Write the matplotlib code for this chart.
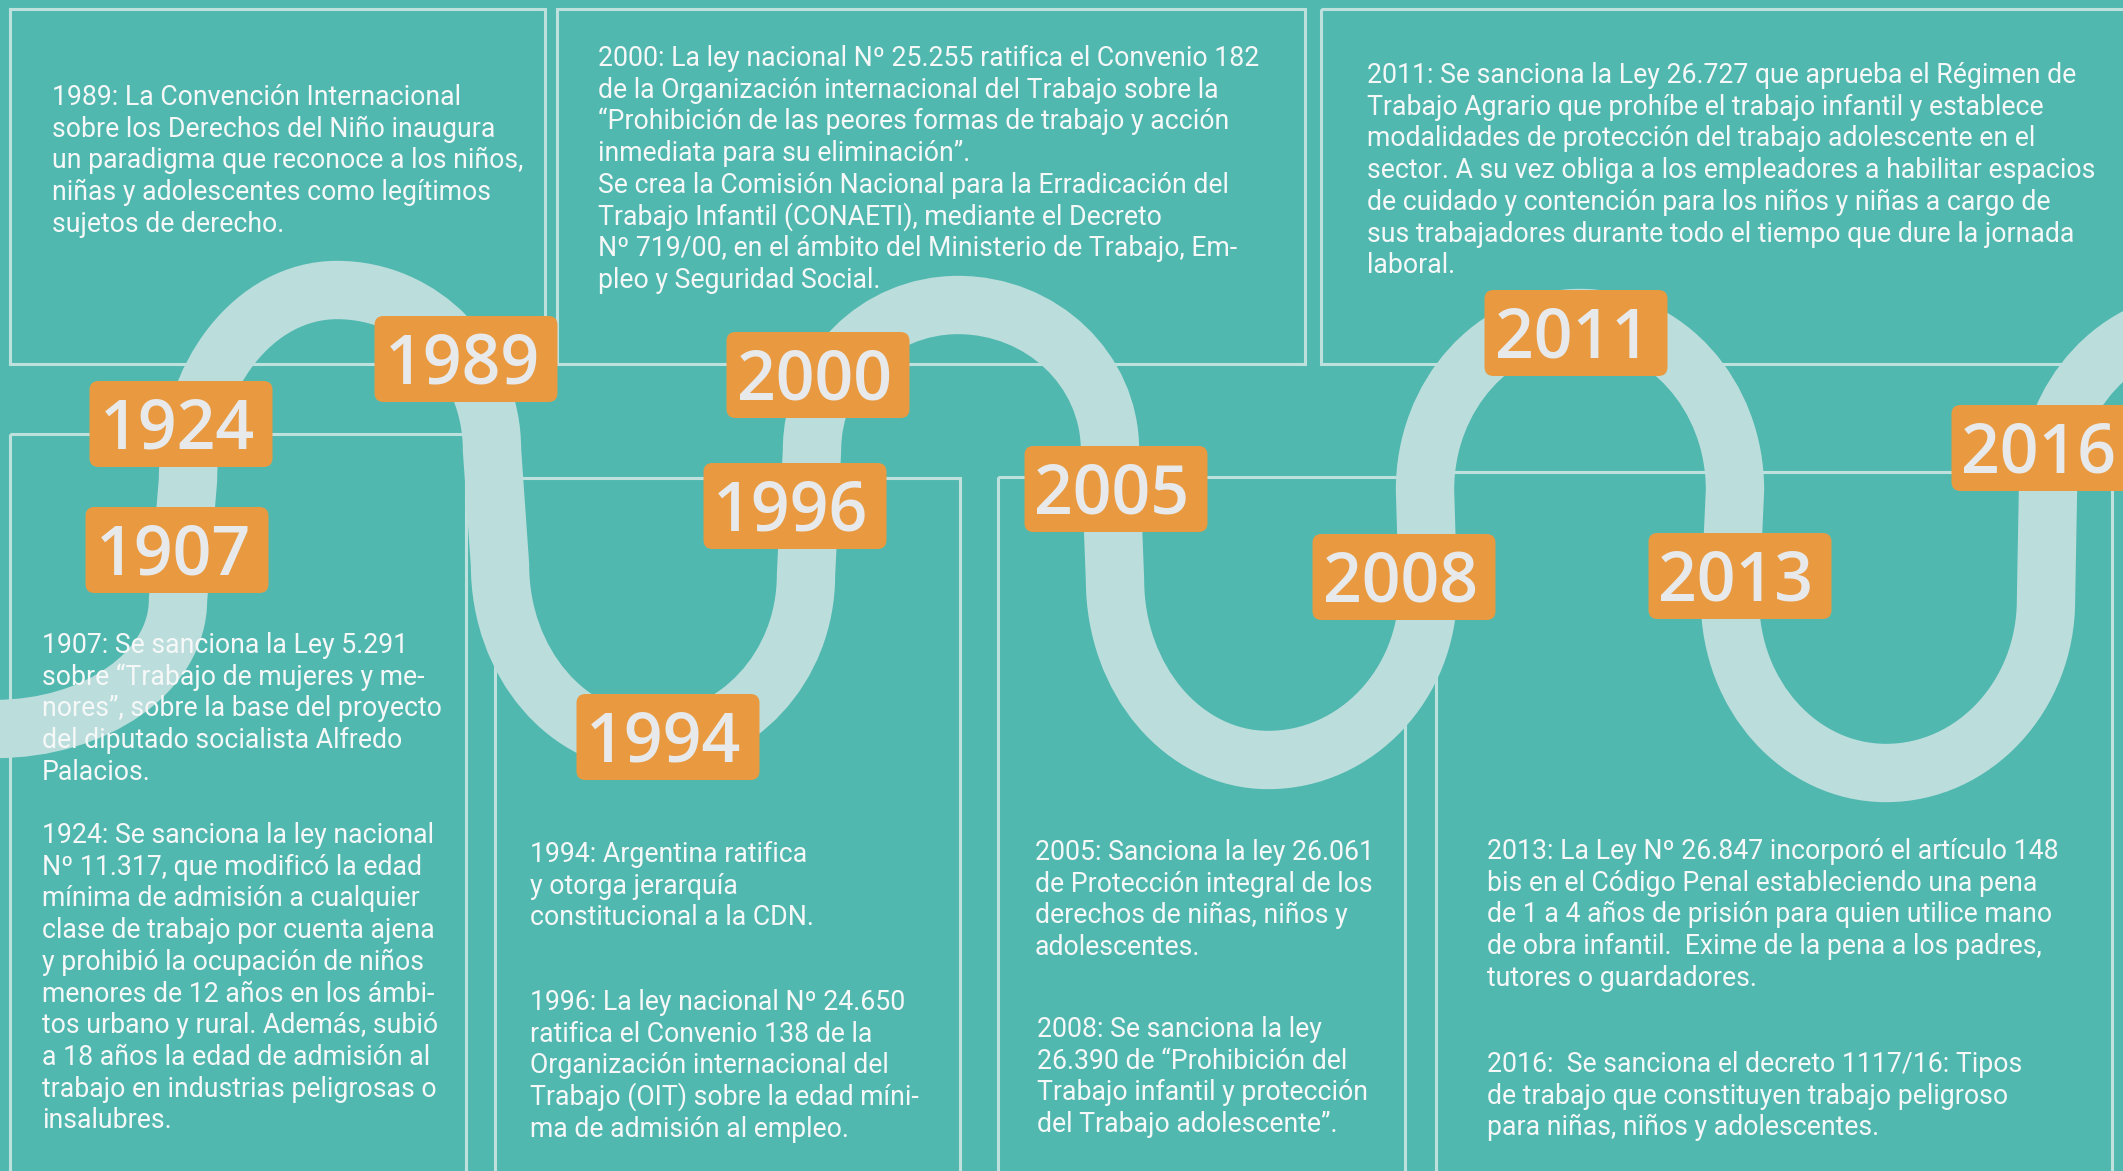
"""Timeline infographic: trabajo infantil en Argentina (1907-2016)."""
import matplotlib
matplotlib.use("Agg")
import matplotlib.pyplot as plt
from matplotlib.patches import FancyBboxPatch, Rectangle, PathPatch
from matplotlib.path import Path

W, H = 2123, 1171
BG = "#51b8b0"
LINE = "#bfe1de"
WAVE = "#bbdedc"
ORANGE = "#e99a40"
LABEL_TXT = "#e8e9eb"
BODY_TXT = "#f6f8f8"
BODY_FONT = ["Roboto", "DejaVu Sans"]
LABEL_FONT = ["Open Sans", "DejaVu Sans"]

# --- data --------------------------------------------------------------------
years = ["1907", "1924", "1989", "1994", "1996", "2000",
         "2005", "2008", "2011", "2013", "2016"]

text_1989 = ["1989: La Convención Internacional",
             "sobre los Derechos del Niño inaugura",
             "un paradigma que reconoce a los niños,",
             "niñas y adolescentes como legítimos",
             "sujetos de derecho."]
text_2000 = ["2000: La ley nacional Nº 25.255 ratifica el Convenio 182",
             "de la Organización internacional del Trabajo sobre la",
             "“Prohibición de las peores formas de trabajo y acción",
             "inmediata para su eliminación”.",
             "Se crea la Comisión Nacional para la Erradicación del",
             "Trabajo Infantil (CONAETI), mediante el Decreto",
             "Nº 719/00, en el ámbito del Ministerio de Trabajo, Em-",
             "pleo y Seguridad Social."]
text_2011 = ["2011: Se sanciona la Ley 26.727 que aprueba el Régimen de",
             "Trabajo Agrario que prohíbe el trabajo infantil y establece",
             "modalidades de protección del trabajo adolescente en el",
             "sector. A su vez obliga a los empleadores a habilitar espacios",
             "de cuidado y contención para los niños y niñas a cargo de",
             "sus trabajadores durante todo el tiempo que dure la jornada",
             "laboral."]
text_1907 = ["1907: Se sanciona la Ley 5.291",
             "sobre “Trabajo de mujeres y me-",
             "nores”, sobre la base del proyecto",
             "del diputado socialista Alfredo",
             "Palacios."]
text_1924 = ["1924: Se sanciona la ley nacional",
             "Nº 11.317, que modificó la edad",
             "mínima de admisión a cualquier",
             "clase de trabajo por cuenta ajena",
             "y prohibió la ocupación de niños",
             "menores de 12 años en los ámbi-",
             "tos urbano y rural. Además, subió",
             "a 18 años la edad de admisión al",
             "trabajo en industrias peligrosas o",
             "insalubres."]
text_1994 = ["1994: Argentina ratifica",
             "y otorga jerarquía",
             "constitucional a la CDN."]
text_1996 = ["1996: La ley nacional Nº 24.650",
             "ratifica el Convenio 138 de la",
             "Organización internacional del",
             "Trabajo (OIT) sobre la edad míni-",
             "ma de admisión al empleo."]
text_2005 = ["2005: Sanciona la ley 26.061",
             "de Protección integral de los",
             "derechos de niñas, niños y",
             "adolescentes."]
text_2008 = ["2008: Se sanciona la ley",
             "26.390 de “Prohibición del",
             "Trabajo infantil y protección",
             "del Trabajo adolescente”."]
text_2013 = ["2013: La Ley Nº 26.847 incorporó el artículo 148",
             "bis en el Código Penal estableciendo una pena",
             "de 1 a 4 años de prisión para quien utilice mano",
             "de obra infantil.  Exime de la pena a los padres,",
             "tutores o guardadores."]
text_2016 = ["2016:  Se sanciona el decreto 1117/16: Tipos",
             "de trabajo que constituyen trabajo peligroso",
             "para niñas, niños y adolescentes."]

# --- layout (pixels, y down) -------------------------------------------------
label_cx = [177, 181, 466, 668, 795, 818, 1116, 1404, 1576, 1740, 2043]
label_cy = [550, 424, 359, 737, 506, 375, 489, 577, 333, 576, 448]
LABEL_W, LABEL_H = 183, 86

# boxes: (x0, y0, x1, y1); ones running off the canvas are simply clipped
boxes = [(10, 9, 545, 364), (557, 9, 1305, 364), (1321, 9, 2160, 364),
         (10, 434, 466, 1220), (495, 478, 960, 1220),
         (998, 477, 1405, 1220), (1436, 472, 2112, 1220)]

# text blocks: (lines, x, first baseline)
blocks = [(text_1989, 52, 105), (text_2000, 598, 66), (text_2011, 1367, 83),
          (text_1907, 42, 653), (text_1924, 42, 843),
          (text_1994, 530, 862), (text_1996, 530, 1010),
          (text_2005, 1035, 860), (text_2008, 1037, 1037),
          (text_2013, 1487, 859), (text_2016, 1487, 1072)]
LINE_DY = 31.7

# wave: horizontal-tangent turning points and vertical legs between them
wave_turns = [(-5, 729), (337, 290), (651, 742), (958, 305),
              (1268, 760), (1580, 318), (1886, 773), (2205, 320)]
wave_legs = [((178, 600), (188, 480)), ((492, 450), (500, 565)),
             ((806, 575), (812, 450)), ((1110, 450), (1115, 580)),
             ((1428, 590), (1425, 490)), ((1735, 490), (1730, 600)),
             ((2046, 600), (2048, 490))]
K = 0.5523


def wave_path():
    verts = [wave_turns[0]]
    codes = [Path.MOVETO]
    for i, (la, lb) in enumerate(wave_legs):
        e0 = wave_turns[i]
        e1 = wave_turns[i + 1]
        # turn -> leg start (quarter ellipse)
        verts += [(e0[0] + K * (la[0] - e0[0]), e0[1]),
                  (la[0], la[1] + K * (e0[1] - la[1])), la]
        codes += [Path.CURVE4] * 3
        verts.append(lb)
        codes.append(Path.LINETO)
        # leg end -> next turn
        verts += [(lb[0], lb[1] + K * (e1[1] - lb[1])),
                  (e1[0] + K * (lb[0] - e1[0]), e1[1]), e1]
        codes += [Path.CURVE4] * 3
    return Path(verts, codes)


def main():
    fig = plt.figure(figsize=(W / 100, H / 100), dpi=100, facecolor=BG)
    ax = fig.add_axes([0, 0, 1, 1])
    ax.set_xlim(0, W)
    ax.set_ylim(H, 0)
    ax.set_facecolor(BG)
    ax.axis("off")

    for x0, y0, x1, y1 in boxes:
        ax.add_patch(Rectangle((x0, y0), x1 - x0, y1 - y0, fill=False,
                               edgecolor=LINE, lw=2.2, zorder=1))

    ax.add_patch(PathPatch(wave_path(), facecolor="none", edgecolor=WAVE,
                           lw=42, capstyle="butt", joinstyle="round", zorder=2))

    for yr, cx, cy in zip(years, label_cx, label_cy):
        ax.add_patch(FancyBboxPatch((cx - LABEL_W / 2 + 6, cy - LABEL_H / 2 + 6),
                                    LABEL_W - 12, LABEL_H - 12,
                                    boxstyle="round,pad=6,rounding_size=9",
                                    facecolor=ORANGE, edgecolor="none", zorder=3))
        ax.text(cx - 4, cy + 7, yr, ha="center", va="center", fontsize=49,
                fontweight="semibold", family=LABEL_FONT, color=LABEL_TXT,
                zorder=4)

    for lines, x, y0 in blocks:
        for i, ln in enumerate(lines):
            ax.text(x, y0 + i * LINE_DY, ln, ha="left", va="baseline",
                    fontsize=19.2, family=BODY_FONT, color=BODY_TXT, zorder=5)

    fig.savefig("out.png", dpi=100, facecolor=BG)
    plt.close(fig)


if __name__ == "__main__":
    main()
